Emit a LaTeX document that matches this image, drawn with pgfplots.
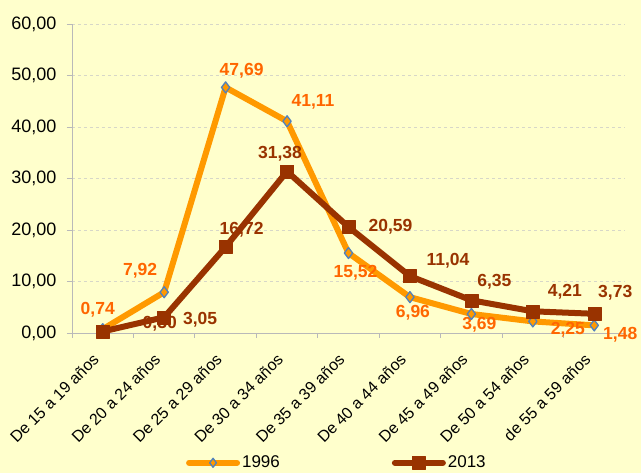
\documentclass[border=0pt]{standalone}
\usepackage{pgfplots}
\pgfplotsset{compat=1.18}
\usepackage{fontspec}
\setmainfont{Liberation Sans}
\definecolor{bg}{RGB}{255,255,204}
\definecolor{orA}{RGB}{255,153,0}
\definecolor{orL}{RGB}{255,102,0}
\definecolor{brn}{RGB}{153,51,0}
\definecolor{mkb}{RGB}{79,129,189}
\definecolor{grd}{RGB}{215,215,200}
\definecolor{axc}{RGB}{185,185,185}
\tikzset{
  lab1/.style={font=\fontsize{17.5}{20}\selectfont\bfseries, text=orL, inner sep=0pt},
  lab2/.style={font=\fontsize{17.5}{20}\selectfont\bfseries, text=brn, inner sep=0pt},
}
\begin{document}
\begin{tikzpicture}
\fill[bg] (-72pt,-140pt) rectangle (569pt,333pt);
\path[use as bounding box] (-72pt,-140pt) rectangle (569pt,333pt);
\begin{axis}[
  at={(0pt,0pt)}, anchor=south west,
  scale only axis, width=553pt, height=309pt,
  clip=false,
  xmin=-0.5, xmax=8.5, ymin=0, ymax=60,
  axis x line*=bottom, axis y line*=left,
  axis line style={axc, line width=0.8pt},
  xtick={0,...,8},
  xticklabels={De 15 a 19 años, De 20 a 24 años, De 25 a 29 años, De 30 a 34 años, De 35 a 39 años, De 40 a 44 años, De 45 a 49 años, De 50 a 54 años, de 55 a 59 años},
  major x tick style={draw=none},
  minor xtick={-0.5,0.5,...,8.5},
  minor x tick style={axc, line width=0.8pt},
  ytick={0,10,...,60},
  ytick style={axc, line width=0.8pt},
  tick align=outside,
  major tick length=5pt, minor tick length=5pt,
  ymajorgrids, grid style={grd, dashed, line width=0.6pt},
  y tick label style={/pgf/number format/.cd, fixed, fixed zerofill, precision=2, use comma, assume math mode=true, /tikz/.cd, font=\fontsize{18}{20}\selectfont, xshift=-7pt},
  x tick label style={rotate=45, anchor=east, font=\fontsize{16}{18}\selectfont, xshift=-14.7pt, yshift=-8.5pt},
  legend columns=2,
  legend style={draw=none, fill=none, at={(0.479,-0.42)}, anchor=center, font=\fontsize{17}{19}\selectfont, /tikz/every even column/.append style={column sep=110pt}},
  legend image code/.code={\draw[mark repeat=2, mark phase=2, #1] plot coordinates {(0pt,0pt) (24pt,0pt) (48pt,0pt)};},
]
\addplot[orA, line width=6pt, line join=round, line cap=round, mark=diamond*, mark size=5.5pt, mark options={fill=orA, draw=mkb, line width=1.3pt, solid}, legend image post style={mark size=4.5pt}]
  coordinates {(0,0.74) (1,7.92) (2,47.69) (3,41.11) (4,15.52) (5,6.96) (6,3.69) (7,2.25) (8,1.48)};
\addlegendentry{1996}
\addplot[brn, line width=6pt, line join=round, line cap=round, mark=square*, mark size=6.5pt, mark options={fill=brn, draw=brn, line width=0.4pt, solid}]
  coordinates {(0,0.30) (1,3.05) (2,16.72) (3,31.38) (4,20.59) (5,11.04) (6,6.35) (7,4.21) (8,3.73)};
\addlegendentry{2013}
\node[lab1, xshift=-5pt, yshift=19pt] at (axis cs:0,0.74) {0,74};
\node[lab1, xshift=-24pt, yshift=21pt] at (axis cs:1,7.92) {7,92};
\node[lab1, xshift=16pt, yshift=17pt] at (axis cs:2,47.69) {47,69};
\node[lab1, xshift=26pt, yshift=19pt] at (axis cs:3,41.11) {41,11};
\node[lab1, xshift=7pt, yshift=-20pt] at (axis cs:4,15.52) {15,52};
\node[lab1, xshift=3pt, yshift=-16pt] at (axis cs:5,6.96) {6,96};
\node[lab1, xshift=8pt, yshift=-11pt] at (axis cs:6,3.69) {3,69};
\node[lab1, xshift=35pt, yshift=-8pt] at (axis cs:7,2.25) {2,25};
\node[lab1, xshift=26pt, yshift=-9pt] at (axis cs:8,1.48) {1,48};
\node[lab2, xshift=57pt, yshift=8pt] at (axis cs:0,0.30) {0,30};
\node[lab2, xshift=36pt, yshift=-2pt] at (axis cs:1,3.05) {3,05};
\node[lab2, xshift=16pt, yshift=17pt] at (axis cs:2,16.72) {16,72};
\node[lab2, xshift=-7pt, yshift=18pt] at (axis cs:3,31.38) {31,38};
\node[lab2, xshift=42pt, yshift=0pt] at (axis cs:4,20.59) {20,59};
\node[lab2, xshift=38pt, yshift=15pt] at (axis cs:5,11.04) {11,04};
\node[lab2, xshift=23pt, yshift=19pt] at (axis cs:6,6.35) {6,35};
\node[lab2, xshift=32pt, yshift=20pt] at (axis cs:7,4.21) {4,21};
\node[lab2, xshift=21pt, yshift=21pt] at (axis cs:8,3.73) {3,73};
\end{axis}
\end{tikzpicture}
\end{document}
